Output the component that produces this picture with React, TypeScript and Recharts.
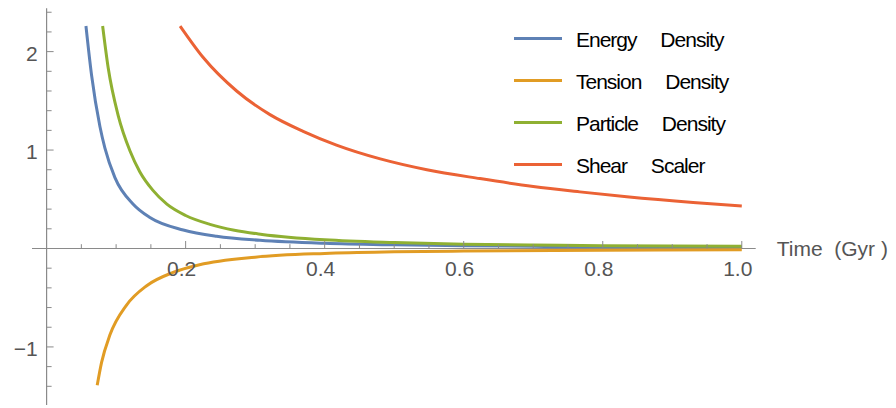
import React from 'react';
import { LineChart, Line, XAxis, YAxis, ReferenceLine, ReferenceDot, Legend } from 'recharts';

// Series values
const energyT = [0.0566, 0.0647, 0.0767, 0.0839, 0.0983, 0.1246, 0.1486, 0.1966, 0.2446, 0.307, 0.4, 0.5, 0.6, 0.7, 0.8, 0.9, 1.0];
const energyV = [2.26, 1.76, 1.24, 1.02, 0.72, 0.45, 0.315, 0.188, 0.124, 0.083, 0.052, 0.037, 0.028, 0.022, 0.018, 0.016, 0.014];

const tensionT = [0.0728, 0.079, 0.091, 0.115, 0.144, 0.182, 0.22, 0.3, 0.4, 0.5, 0.6, 0.8, 1.0];
const tensionV = [-1.39, -1.16, -0.88, -0.575, -0.378, -0.243, -0.165, -0.088, -0.05, -0.034, -0.026, -0.018, -0.014];

const particleT = [0.0806, 0.0887, 0.103, 0.12, 0.134, 0.153, 0.173, 0.2, 0.235, 0.27, 0.31, 0.4, 0.5, 0.6, 0.7, 0.8, 0.9, 1.0];
const particleV = [2.26, 1.83, 1.35, 0.99, 0.78, 0.59, 0.45, 0.335, 0.245, 0.185, 0.143, 0.088, 0.06, 0.044, 0.035, 0.029, 0.025, 0.022];

const shearT = [0.192, 0.2253, 0.2734, 0.3213, 0.369, 0.417, 0.48, 0.547, 0.6234, 0.7, 0.767, 0.8345, 0.93, 1.0];
const shearV = [2.26, 1.94, 1.6, 1.36, 1.19, 1.05, 0.91, 0.8, 0.71, 0.63, 0.575, 0.525, 0.467, 0.432];

const seriesNames = ['Energy Density', 'Tension Density', 'Particle Density', 'Shear Scaler'];
const seriesColors = ['#5E81B5', '#E19C24', '#8FB032', '#EB6235'];

const xMajorTicks = [0.2, 0.4, 0.6, 0.8, 1.0];
const xTickLabels = ['0.2', '0.4', '0.6', '0.8', '1.0'];
const xMinorTicks = [0.05, 0.1, 0.15, 0.25, 0.3, 0.35, 0.45, 0.5, 0.55, 0.65, 0.7, 0.75, 0.85, 0.9, 0.95];
const yMajorTicks = [-1, 1, 2];
const yTickLabels = ['\u22121', '1', '2'];
const yMinorTicks = [-1.4, -1.2, -0.8, -0.6, -0.4, -0.2, 0.2, 0.4, 0.6, 0.8, 1.2, 1.4, 1.6, 1.8, 2.2, 2.4];
const xTitle = 'Time  (Gyr )';

const xDomain: [number, number] = [-0.021, 1.02];
const yDomain: [number, number] = [-1.59, 2.44];

const toRows = (ts: number[], vs: number[]) => ts.map((t, i) => ({ t, v: vs[i] }));
const seriesData = [
  toRows(energyT, energyV),
  toRows(tensionT, tensionV),
  toRows(particleT, particleV),
  toRows(shearT, shearV),
];

const AXIS = '#8a8a8a';
const LABEL = '#555555';
const FONT = '"Liberation Sans", Arial, sans-serif';

const LegendContent = () => (
  <div style={{ fontFamily: FONT }}>
    {seriesNames.map((n, i) => (
      <div key={n} style={{ display: 'flex', alignItems: 'center', height: 42.2 }}>
        <div style={{ width: 48, height: 3, background: seriesColors[i], marginRight: 14 }} />
        <span style={{ fontSize: 21, color: '#000', letterSpacing: -1, wordSpacing: 19, whiteSpace: 'pre', paddingTop: 3 }}>{n}</span>
      </div>
    ))}
  </div>
);

export default function App() {
  return (
    <div style={{ position: 'absolute', left: 0, top: 0, width: 896, height: 408, background: '#fff' }}>
      <LineChart width={896} height={408} margin={{ top: 8.3, right: 140.3, bottom: 3, left: 32 }}>
        <XAxis type="number" dataKey="t" domain={xDomain} allowDataOverflow hide />
        <YAxis type="number" dataKey="v" domain={yDomain} allowDataOverflow hide />
        <ReferenceLine y={0} stroke={AXIS} strokeWidth={1.2} />
        <ReferenceLine x={0} stroke={AXIS} strokeWidth={1.2} />
        {xMinorTicks.map((t) => (
          <ReferenceDot key={'xm' + t} x={t} y={0} shape={(p: any) => <line x1={p.cx} x2={p.cx} y1={p.cy} y2={p.cy - 4.3} stroke={AXIS} strokeWidth={1} />} />
        ))}
        {xMajorTicks.map((t, i) => (
          <ReferenceDot key={'xM' + t} x={t} y={0} shape={(p: any) => (
            <g>
              <line x1={p.cx} x2={p.cx} y1={p.cy} y2={p.cy - 7.5} stroke={AXIS} strokeWidth={1} />
              <text x={p.cx - 4} y={p.cy + 28} textAnchor="middle" fontSize={21} fontFamily={FONT} fill={LABEL}>{xTickLabels[i]}</text>
            </g>
          )} />
        ))}
        {yMinorTicks.map((v) => (
          <ReferenceDot key={'ym' + v} x={0} y={v} shape={(p: any) => <line x1={p.cx} x2={p.cx + 5} y1={p.cy} y2={p.cy} stroke={AXIS} strokeWidth={1} />} />
        ))}
        {yMajorTicks.map((v, i) => (
          <ReferenceDot key={'yM' + v} x={0} y={v} shape={(p: any) => (
            <g>
              <line x1={p.cx} x2={p.cx + 7} y1={p.cy} y2={p.cy} stroke={AXIS} strokeWidth={1} />
              <text x={p.cx - 9} y={p.cy + 9} textAnchor="end" fontSize={21} fontFamily={FONT} fill={LABEL}>{yTickLabels[i]}</text>
            </g>
          )} />
        ))}
        <ReferenceDot x={1.02} y={0} shape={(p: any) => (
          <text x={p.cx + 21} y={p.cy + 8} fontSize={21} fontFamily={FONT} fill={LABEL} style={{ whiteSpace: 'pre' }}>{xTitle}</text>
        )} />
        {seriesData.map((d, i) => (
          <Line key={seriesNames[i]} data={d} dataKey="v" name={seriesNames[i]} type="monotone" stroke={seriesColors[i]} strokeWidth={3} dot={false} isAnimationActive={false} />
        ))}
        <Legend layout="vertical" align="center" verticalAlign="middle" content={LegendContent} wrapperStyle={{ left: 514, top: 17, width: 'auto', height: 'auto' }} />
      </LineChart>
    </div>
  );
}
